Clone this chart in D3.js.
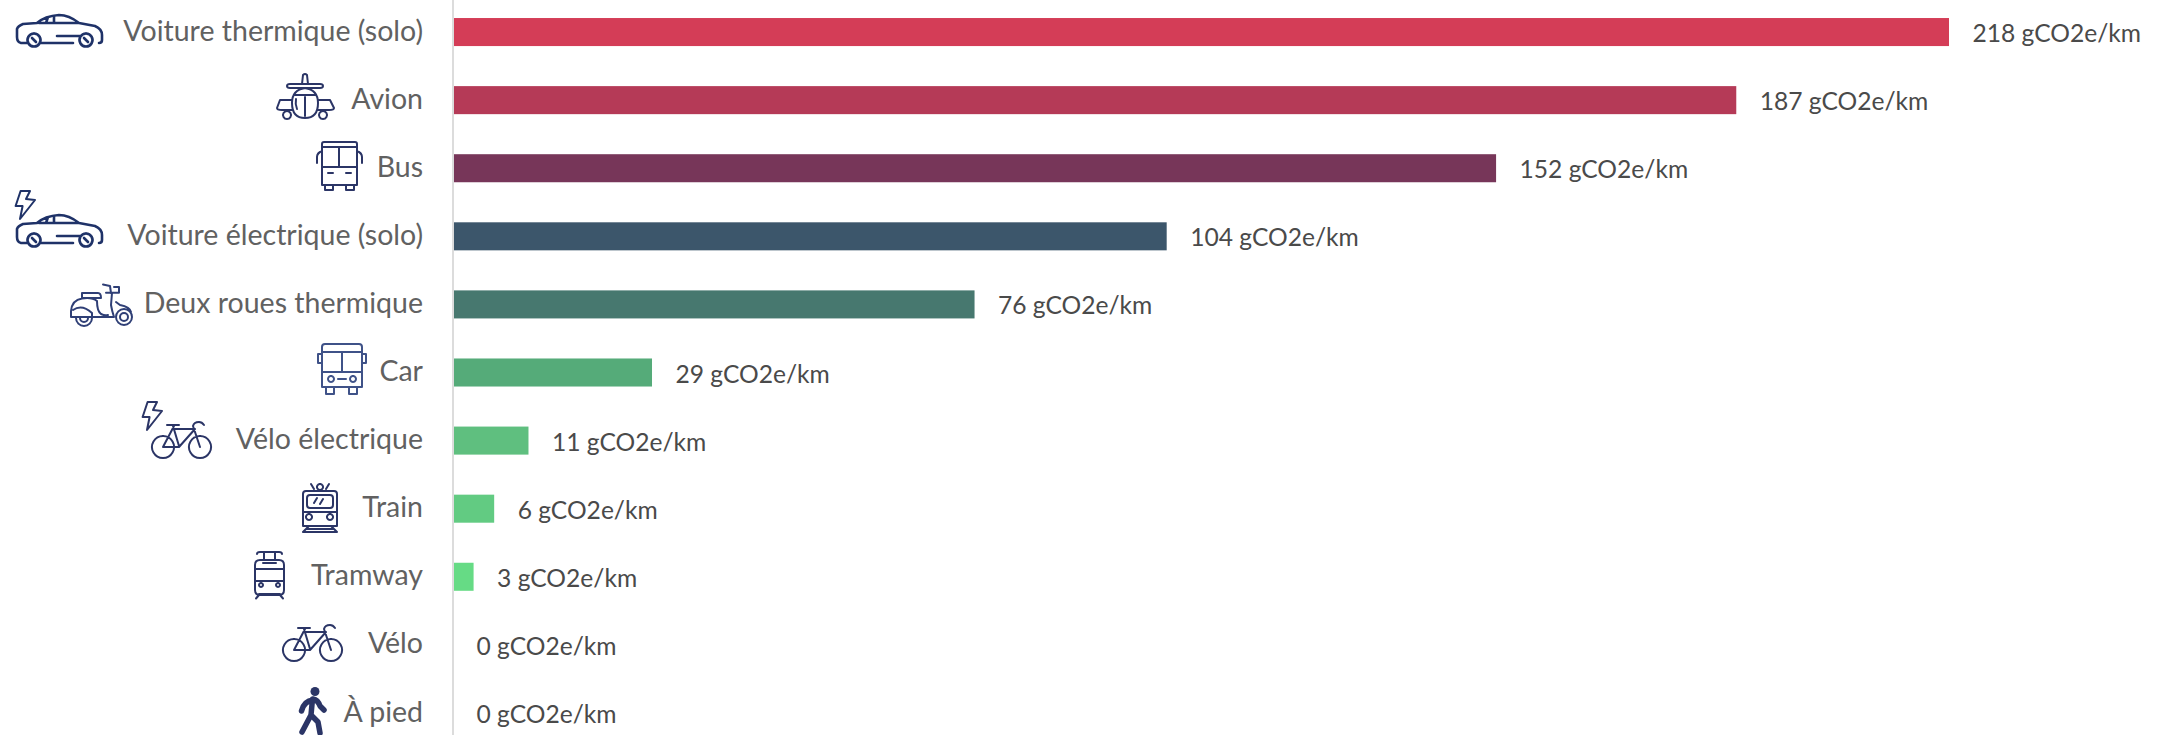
<!DOCTYPE html>
<html><head><meta charset="utf-8">
<script src="https://cdnjs.cloudflare.com/ajax/libs/d3/7.8.5/d3.min.js"></script>
<style>
html,body{margin:0;padding:0;background:#fff;overflow:hidden}
text{font-family:"Lato","Noto Sans",sans-serif}
</style></head><body><svg id="c" width="2165" height="735"></svg>
<script>
const categories=["Voiture thermique (solo)","Avion","Bus","Voiture électrique (solo)","Deux roues thermique","Car","Vélo électrique","Train","Tramway","Vélo","À pied"];
const values=[218,187,152,104,76,29,11,6,3,0,0];
const unit=" gCO2e/km";
const barColors=["#d43d57","#b53a57","#773659","#3c566b","#47786f","#55ab79","#5fbf7f","#62cb82","#66db85","#66db85","#66db85"];
const iconNames=["car","plane","bus","car","scooter","coach","bike","train","tram","bike","walk"];

const ICON={
 car:"M10,28H4Q0,27 0,22V14Q1,11 6,9L20,8Q28,1 42,0Q52,0 62,8L78,11Q85,14 85,20V25Q85,28 82,28M24,28H56M22,8H62M37,1V8M29,8L31,2M40,21H64M17,18.5a6.5,6.5 0 1,0 .01,0M69,18.5a6.5,6.5 0 1,0 .01,0M15,23L19,27M67,23L71,27",
 plane:"M25,11L26,2Q28,0 30,2L31,11M10,13Q10,11 13,11H43Q46,11 46,13Q46,15 43,15H13Q10,15 10,13ZM28,15Q41,17 41,30Q41,45 28,45Q15,45 15,30Q15,17 28,15ZM18,22H38M28,24V43M19,26Q18,31 20,36M15,27H3L0,35Q0,37 5,37H16M41,27H53L57,35Q57,37 52,37H40M10,38a4,4 0 1,0 .01,0M46,38a4,4 0 1,0 .01,0",
 bus:"M7,0H38Q40,0 40,2V43H5V2Q5,0 7,0ZM5,5H40M22,5V25M5,25H40M11,31H16M29,31H34M5,9Q0,11 0,15V21M40,9Q45,11 45,15V21M8,43V48H16V43M29,43V48H37V43",
 coach:"M8,0H42Q45,0 45,3V43H5V3Q5,0 8,0ZM5,8H45M25,8V28M5,28H45M14,32a3,3 0 1,0 .01,0M36,32a3,3 0 1,0 .01,0M21,35H29M5,10H1V19H5M45,10H49V19H45M9,43V50H17V43M32,43V50H40V43",
 scooter:"M46,34a8,8 0 1,0 16,0a8,8 0 1,0 -16,0M50,34a4,4 0 1,0 8,0a4,4 0 1,0 -8,0M6,35a8,8 0 0,0 16,0M10,35a4,4 0 0,0 8,0M1,34H44Q42,28 41,22L42,10M1,34V28Q2,17 12,15.5Q22,14 27,18Q27,28 31,31Q35,33 38,32M3,27Q12,21 22,30V34M12,10H28Q31,10 31,15H12ZM33,1.5L40,3L41,10M36,9.7H49V4H44M46,19L50,22Q60,24 61,29",
 bike:"M11,14a11,11 0 1,0 .01,0M48,14a11,11 0 1,0 .01,0M11,25H27L43,7H21M22,4L11,25M21,4L27,24M15,3H27M48,25L41,4Q42,0 47,0Q50,0 52,3",
 train:"M4,8H32Q35,8 35,11V43H1V11Q1,8 4,8ZM8,12H28Q31,12 31,15V22Q31,25 28,25H8Q5,25 5,22V15Q5,12 8,12ZM15,15L12,20M21,16L18,21M1,29H35M7,31a3,3 0 1,0 .01,0M28,31a3,3 0 1,0 .01,0M18,1a3,3 0 1,0 .01,0M9,1L12,6M27,1L24,6M7,43L1,49H35L29,43M4,46H32",
 tram:"M6,9H25Q30,9 30,14V39Q30,44 25,44H6Q1,44 1,39V14Q1,9 6,9ZM1,18H30M9,12H22M1,30H30M7,32a2,2 0 1,0 .01,0M24,32a2,2 0 1,0 .01,0M3,3Q3,1 6,1H25Q28,1 28,3M10,1V9M21,1V9M5,44L2,47.5M26,44L29,47.5M5,43H26",
 bolt:"M5.6,0H15L11,8L20,9L5,28L7.6,15H.6Z",
 walk:"M15,13Q6,14 3.5,24M15,12Q20,13 22,19L26,23M14.5,12L13,28L4,45M13,28L20,35L22,46"
};
// top-left corner of each row's icon, and a lightning bolt where the mode is electric
const iconPlace=[{x:17,y:15},{x:277,y:73},{x:317,y:142},{x:17,y:215,bx:15,by:191},{x:70,y:283},{x:317,y:344},{x:152,y:422,bx:142,by:402},{x:302,y:483},{x:254,y:551},{x:283,y:625},{x:298,y:687}];
const iconColor=["#1f3268","#2b3566","#2b3566","#1f3268","#2f3f76","#3f5288","#2b3566","#2b3566","#2b3566","#2b3566","#2b3566"];

const svg=d3.select("#c");
const x=d3.scaleLinear().domain([0,218]).range([453,1949]);
const y=d3.scaleBand().domain(categories).range([-2,747]).paddingInner(40/68).paddingOuter(20/68);

// bars
svg.append("g").selectAll("rect").data(categories).join("rect")
 .attr("x",x(0)).attr("y",d=>y(d)).attr("height",y.bandwidth())
 .attr("width",(d,i)=>x(values[i])-x(0)).attr("fill",(d,i)=>barColors[i]);

// category axis
const axis=svg.append("g").attr("transform",`translate(${x(0)},0)`)
 .call(d3.axisLeft(y).tickSize(0).tickPadding(30));
axis.select(".domain").attr("stroke","#dcdcdc").attr("stroke-width",2).attr("d","M0,0V735");
axis.selectAll("text").attr("font-size",28.5).attr("fill","#616161").attr("dy","0.3em")
 .attr("font-family",'"Lato","Noto Sans",sans-serif');

// value labels
svg.append("g").selectAll("text").data(categories).join("text")
 .attr("x",(d,i)=>x(values[i])+23.5).attr("y",d=>y(d)+y.bandwidth()/2+10)
 .attr("font-size",24.6).attr("fill","#4a4a4a")
 .text((d,i)=>values[i]+unit);

// icons
const ic=svg.append("g").attr("fill","none").attr("stroke-linejoin","round").attr("stroke-linecap","round");
iconNames.forEach((n,i)=>{
  const p=iconPlace[i],col=iconColor[i];
  const g=ic.append("g").attr("transform",`translate(${p.x},${p.y})`).attr("stroke",col);
  if(n==="walk"){
    g.append("circle").attr("cx",17).attr("cy",4.5).attr("r",4.5).attr("fill",col).attr("stroke","none");
    g.append("path").attr("d",ICON.walk).attr("stroke-width",5.5);
  } else {
    g.append("path").attr("d",ICON[n]).attr("stroke-width",n==="car"?2.6:2);
  }
  if(p.bx!==undefined){
    ic.append("path").attr("transform",`translate(${p.bx},${p.by})`).attr("d",ICON.bolt).attr("stroke",col).attr("stroke-width",2);
  }
});
</script></body></html>
